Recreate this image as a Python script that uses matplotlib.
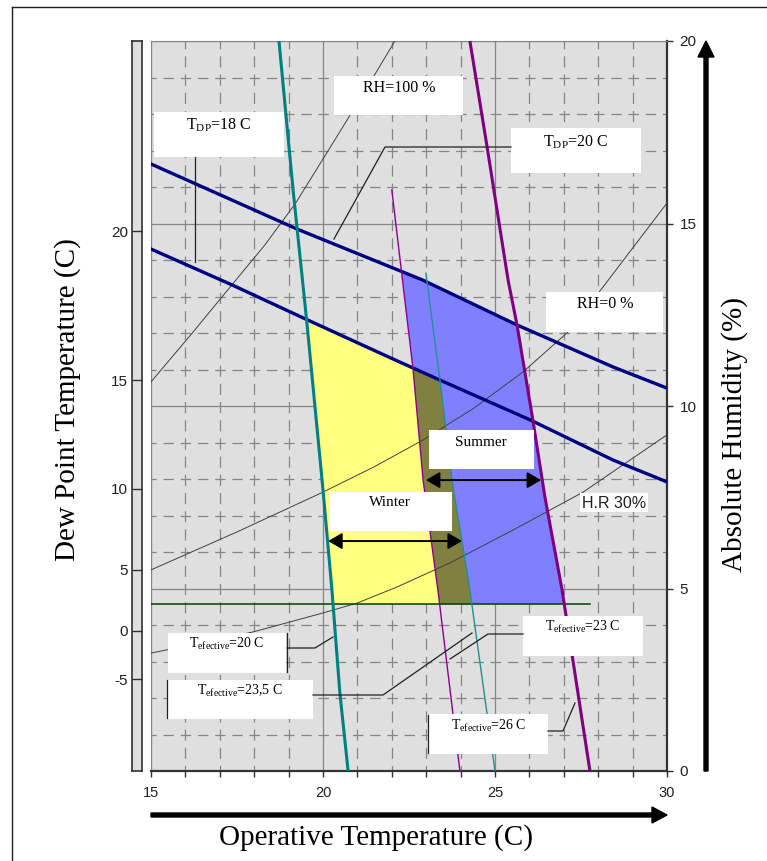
import numpy as np
import matplotlib.pyplot as plt
from matplotlib.patches import Rectangle

plt.rcParams['font.family'] = ['Liberation Serif', 'DejaVu Serif']
plt.rcParams['mathtext.fontset'] = 'custom'
plt.rcParams['mathtext.rm'] = 'Liberation Serif'
plt.rcParams['lines.scale_dashes'] = False

# Lineas del diagrama (x = temperatura operativa, y = humedad absoluta)
navy_top_x = [15, 19.24, 22.9, 25.64, 28.43, 30]
navy_top_y = [16.63, 14.85, 13.45, 12.22, 11.07, 10.49]
navy_bot_x = [15, 17.35, 19.5, 22.1, 23.4, 26.02, 28.43, 30]
navy_bot_y = [14.30, 13.32, 12.38, 11.26, 10.71, 9.62, 8.52, 7.92]

teal_thick_x = [18.72, 19.13, 19.53, 20.0, 20.26, 20.49, 20.73]
teal_thick_y = [20, 15.92, 12.30, 7.70, 4.96, 2.14, 0]
purple_thin_x = [22.0, 22.62, 22.91, 23.34, 23.98]
purple_thin_y = [15.92, 10.99, 7.97, 4.96, 0]
teal_thin_x = [22.99, 23.40, 23.75, 24.27, 25.0]
teal_thin_y = [13.64, 10.71, 7.97, 4.96, 0]
purple_thick_x = [24.27, 24.77, 25.38, 25.64, 26.10, 26.45, 26.95, 27.76]
purple_thick_y = [20, 17.10, 13.45, 12.22, 9.62, 7.51, 4.96, 0]

green_y = 4.57
green_x = [15, 27.76]

# curvas de humedad relativa
rh100_x = [15, 16.2, 17.3, 18.3, 19.2, 20.35, 21.2, 22.09]
rh100_y = [10.66, 12.0, 13.26, 14.4, 15.55, 17.3, 18.6, 20]
rh0_x = [15, 17.5, 20.0, 21.5, 22.91, 24.4, 25.81, 27.09, 28.14, 29.1, 30]
rh0_y = [5.51, 6.55, 7.64, 8.34, 9.07, 9.95, 10.93, 12.0, 13.26, 14.45, 15.56]
hr30_x = [15, 17.97, 20.0, 20.99, 22.15, 23.69, 25.64, 27.56, 30]
hr30_y = [3.23, 3.81, 4.33, 4.60, 5.04, 5.70, 6.66, 7.64, 9.21]

# rangos invierno / verano
winter_range = [20.15, 24.04]
winter_y = 6.30
summer_range = [22.99, 26.34]
summer_y = 7.97

# eje izquierdo: temperatura de rocio
dew_labels = ['20', '15', '10', '5', '0', '-5']
dew_pos = [14.79, 10.71, 7.73, 5.51, 3.84, 2.52]


def x_on(xs, ys, y):
    xs, ys = np.asarray(xs), np.asarray(ys)
    return np.interp(y, ys[::-1], xs[::-1])


def cross(vx, vy, hx, hy):
    yy = np.linspace(min(vy), max(vy), 20001)
    d = yy - np.interp(x_on(vx, vy, yy), hx, hy)
    i = np.argmin(np.abs(d))
    return float(x_on(vx, vy, yy[i])), float(yy[i])


def v_seg(vx, vy, y0, y1):
    vy_a = np.asarray(vy)
    m = (vy_a > y0) & (vy_a < y1)
    ys = np.concatenate([[y0], vy_a[m][::-1], [y1]])
    return x_on(vx, vy, ys), ys


def h_seg(hx, hy, x0, x1):
    hx_a = np.asarray(hx)
    m = (hx_a > x0) & (hx_a < x1)
    xs = np.concatenate([[x0], hx_a[m], [x1]])
    return xs, np.interp(xs, hx, hy)


def region(left, right, top):
    xa, ya = cross(*left, *top)
    xb, yb = cross(*right, *top)
    lx, ly = v_seg(*left, green_y, ya)
    tx, ty = h_seg(*top, xa, xb)
    rx, ry = v_seg(*right, green_y, yb)
    return (np.concatenate([lx, tx, rx[::-1]]),
            np.concatenate([ly, ty, ry[::-1]]))


W, H = 767, 861
fig = plt.figure(figsize=(W / 100, H / 100), dpi=100)
fig.patch.set_facecolor('white')

ax = fig.add_axes([151 / W, 1 - 771 / H, 516 / W, 730 / H])
ax.set_facecolor('#DFDFDF')
ax.set_xlim(15, 30)
ax.set_ylim(0, 20)
ax.set_xticks([15, 20, 25, 30])
ax.set_xticks(np.arange(15, 31), minor=True)
ax.set_yticks([0, 5, 10, 15, 20])
ax.set_yticks(np.arange(0, 21), minor=True)
ax.yaxis.tick_right()
ax.set_axisbelow(True)
ax.grid(which='major', color='#858585', lw=0.9, ls='-')
ax.grid(which='minor', axis='x', color='#858585', lw=0.9, ls=(4, (8, 5.1)))
ax.grid(which='minor', axis='y', color='#858585', lw=0.9, ls=(3.75, (7.5, 4.9)))
ax.tick_params(axis='x', which='both', direction='out', length=4, width=1,
               color='#303030', labelsize=10.5, pad=7, labelcolor='#202020')
ax.tick_params(axis='y', which='major', direction='out', length=4, width=1,
               color='#303030', labelsize=11, pad=5, labelcolor='#202020')
ax.tick_params(axis='y', which='minor', length=0)
for lab in ax.get_xticklabels() + ax.get_yticklabels():
    lab.set_family('Liberation Sans')
for s in ['top', 'left']:
    ax.spines[s].set_color('#858585')
for s in ['bottom', 'right']:
    ax.spines[s].set_color('#333333')
    ax.spines[s].set_linewidth(1.6)

# zonas de confort
wx, wy = region((teal_thick_x, teal_thick_y), (teal_thin_x, teal_thin_y),
                (navy_bot_x, navy_bot_y))
sx, sy = region((purple_thin_x, purple_thin_y), (purple_thick_x, purple_thick_y),
                (navy_top_x, navy_top_y))
ox, oy = region((purple_thin_x, purple_thin_y), (teal_thin_x, teal_thin_y),
                (navy_bot_x, navy_bot_y))
ax.fill(wx, wy, color='#FFFF80', lw=0, zorder=2)
ax.fill(sx, sy, color='#8080FF', lw=0, zorder=2)
ax.fill(ox, oy, color='#808040', lw=0, zorder=2.1)

# curvas
for cx, cy in [(rh100_x, rh100_y), (rh0_x, rh0_y), (hr30_x, hr30_y)]:
    ax.plot(cx, cy, color='#404040', lw=0.7, zorder=3)
ax.plot(green_x, [green_y, green_y], color='#004000', lw=1.1, zorder=3)
ax.plot(navy_top_x, navy_top_y, color='#000080', lw=2.4, zorder=4)
ax.plot(navy_bot_x, navy_bot_y, color='#000080', lw=2.4, zorder=4)
ax.plot(teal_thick_x, teal_thick_y, color='#008080', lw=2.2, zorder=4)
ax.plot(purple_thick_x, purple_thick_y, color='#800080', lw=2.2, zorder=4)
ax.plot(purple_thin_x, purple_thin_y, color='#900090', lw=1.0, zorder=4)
ax.plot(teal_thin_x, teal_thin_y, color='#209090', lw=1.0, zorder=4)

arrow_kw = dict(arrowstyle='<|-|>,head_length=0.6,head_width=0.35', color='k',
                lw=1.4, mutation_scale=14, shrinkA=0, shrinkB=0)
ax.annotate('', xy=(winter_range[1], winter_y), xytext=(winter_range[0], winter_y),
            arrowprops=arrow_kw, zorder=6)
ax.annotate('', xy=(summer_range[1], summer_y), xytext=(summer_range[0], summer_y),
            arrowprops=arrow_kw, zorder=6)

# barra del eje de temperatura de rocio
bar = fig.add_axes([132 / W, 1 - 771 / H, 10 / W, 730 / H])
bar.set_facecolor('#DFDFDF')
bar.set_xlim(0, 1)
bar.set_ylim(0, 20)
bar.set_xticks([])
bar.set_yticks(dew_pos)
bar.set_yticklabels(dew_labels, family='Liberation Sans', fontsize=11, color='#202020')
bar.tick_params(axis='y', direction='in', length=7.2, width=1, color='#303030', pad=3)
for s in bar.spines.values():
    s.set_color('#303030')
    s.set_linewidth(1.2)

# capa superior en pixeles: etiquetas, flechas, marco
ov = fig.add_axes([0, 0, 1, 1])
ov.set_xlim(0, W)
ov.set_ylim(H, 0)
ov.axis('off')
ov.patch.set_alpha(0)

ov.plot([12, 12], [H, 7], color='#202020', lw=1)
ov.plot([12, W], [7, 7], color='#202020', lw=1)

ov.arrow(151, 815, 516, 0, width=4, head_width=16, head_length=15,
         length_includes_head=True, color='k')
ov.arrow(706, 771, 0, -730, width=4, head_width=16, head_length=16,
         length_includes_head=True, color='k')

ov.text(68, 400, 'Dew Point Temperature (C)', rotation=90, fontsize=21,
        ha='center', va='center')
ov.text(735, 434, 'Absolute Humidity (%)', rotation=90, fontsize=21,
        ha='center', va='center')
ov.text(376, 838, 'Operative Temperature (C)', fontsize=21, ha='center', va='center')

leaders = [
    [(195, 157), (195, 262)],
    [(511, 147), (385, 147), (334, 239)],
    [(287, 648), (315, 648), (333, 637)],
    [(313, 695), (383, 695), (472, 633)],
    [(523, 634), (488, 634), (450, 659)],
    [(548, 731), (563, 731), (575, 703)],
    [(287, 633), (287, 672)],
    [(167, 680), (167, 718)],
    [(428, 715), (428, 753)],
]
for pts in leaders:
    px, py = zip(*pts)
    ov.plot(px, py, color='#202020', lw=0.9, zorder=2)

boxes = [
    (154, 112, 284, 157, r'T$_{\mathrm{DP}}$=18 C', 219, 125, 11.5),
    (334, 76, 463, 115, 'RH=100 %', 399, 88, 11.5),
    (511, 128, 641, 173, r'T$_{\mathrm{DP}}$=20 C', 576, 142, 11.5),
    (546, 292, 663, 332, 'RH=0 %', 605, 304, 11.5),
    (429, 430, 534, 469, 'Summer', 481, 442, 11),
    (330, 492, 452, 531, 'Winter', 390, 503, 11),
    (168, 633, 286, 673, r'T$_{\mathrm{efective}}$=20 C', 227, 644, 10),
    (168, 680, 313, 719, r'T$_{\mathrm{efective}}$=23,5 C', 240, 691, 10),
    (523, 616, 643, 656, r'T$_{\mathrm{efective}}$=23 C', 583, 627, 10),
    (429, 714, 548, 754, r'T$_{\mathrm{efective}}$=26 C', 489, 726, 10),
]
for x0, y0, x1, y1, txt, tx, ty, fs in boxes:
    ov.add_patch(Rectangle((x0, y0), x1 - x0, y1 - y0, facecolor='white',
                           edgecolor='none', zorder=1))
    ov.text(tx, ty, txt, fontsize=fs, ha='center', va='center', zorder=3)

ov.add_patch(Rectangle((580, 493), 68, 19, facecolor='white', edgecolor='none', zorder=1))
ov.text(614, 503, 'H.R 30%', family='Liberation Sans', fontsize=11.5,
        ha='center', va='center', color='#202020', zorder=3)

fig.savefig('out.png', dpi=100)
